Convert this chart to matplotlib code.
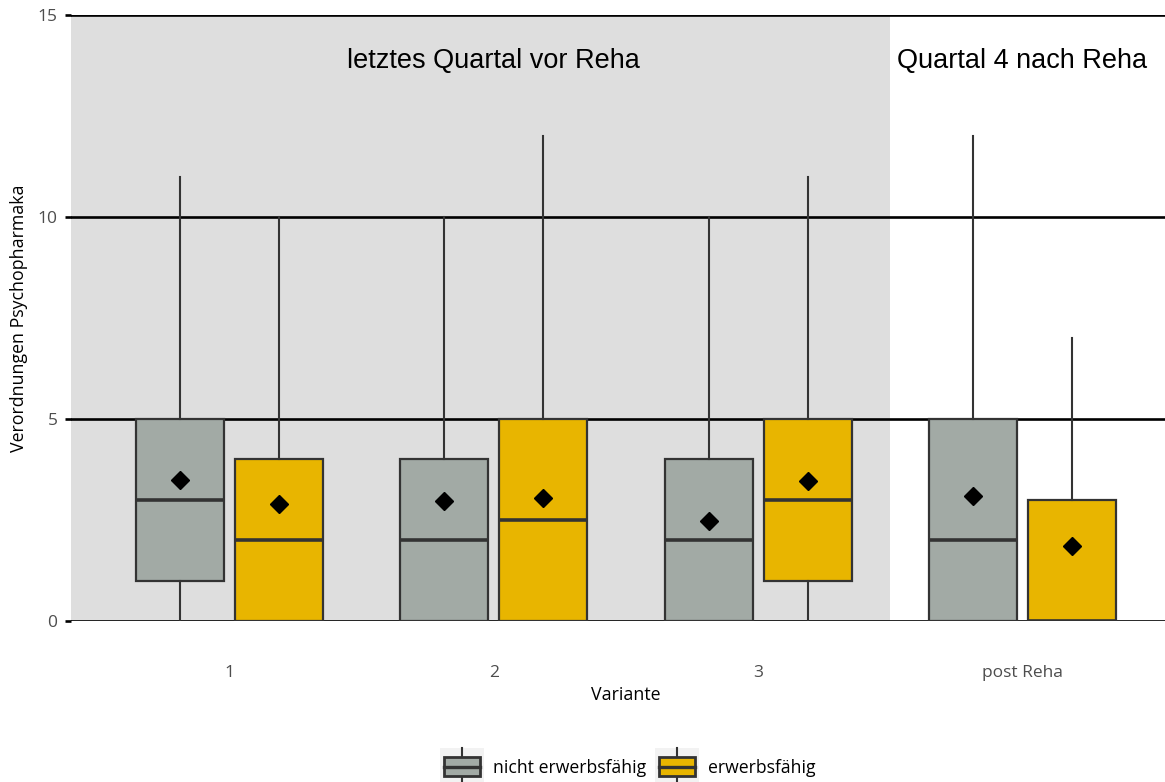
import numpy as np
import matplotlib.pyplot as plt
from matplotlib.patches import Rectangle
from matplotlib.lines import Line2D
from matplotlib.legend_handler import HandlerBase

# five-number summaries per group (whisker low, q1, median, q3, whisker high) and means
varianten = ['1', '2', '3', 'post Reha']
gruppen = ['nicht erwerbsfähig', 'erwerbsfähig']

nicht_low = [0, 0, 0, 0]
nicht_q1 = [1, 0, 0, 0]
nicht_med = [3, 2, 2, 2]
nicht_q3 = [5, 4, 4, 5]
nicht_high = [11, 10, 10, 12]
nicht_mean = [3.5, 2.97, 2.48, 3.1]

erw_low = [0, 0, 0, 0]
erw_q1 = [0, 0, 1, 0]
erw_med = [2, 2.5, 3, 0]
erw_q3 = [4, 5, 5, 3]
erw_high = [10, 12, 11, 7]
erw_mean = [2.9, 3.05, 3.46, 1.85]

farben = ['#A2AAA5', '#E8B500']
kante = '#333333'

plt.rcParams['font.family'] = ['Open Sans', 'DejaVu Sans']

W, H = 1165, 782
fig = plt.figure(figsize=(W / 100, H / 100), dpi=100)
# panel runs past the right border, as in the saved original
ax = fig.add_axes([71 / W, 1 - 621 / H, 1110 / W, 606 / H])
ax.set_xlim(0.4, 4.6)
ax.set_ylim(0, 15)

for s in ax.spines.values():
    s.set_visible(False)

# shaded region for the pre-rehab quarter
ax.axvspan(0.4, 3.5, color='#DEDEDE', zorder=0, lw=0)
for yv in [0, 5, 10, 15]:
    ax.axhline(yv, color='black', lw=1.9, zorder=1)

def stats_for(low, q1, med, q3, high, mean):
    out = []
    for i in range(len(low)):
        out.append(dict(whislo=low[i], q1=q1[i], med=med[i], q3=q3[i],
                        whishi=high[i], mean=mean[i], fliers=[]))
    return out

pos = np.arange(1, len(varianten) + 1)
breite = 0.333
versatz = 0.1875
serien = [stats_for(nicht_low, nicht_q1, nicht_med, nicht_q3, nicht_high, nicht_mean),
          stats_for(erw_low, erw_q1, erw_med, erw_q3, erw_high, erw_mean)]

for k, st in enumerate(serien):
    p = pos + (k * 2 - 1) * versatz
    ax.bxp(st, positions=p, widths=breite, patch_artist=True, showcaps=False,
           showmeans=True, manage_ticks=False,
           boxprops=dict(facecolor=farben[k], edgecolor=kante, lw=1.6),
           medianprops=dict(color=kante, lw=2.6),
           whiskerprops=dict(color=kante, lw=1.5),
           meanprops=dict(marker='D', markerfacecolor='black', markeredgecolor='black',
                          markersize=9),
           zorder=3)

ax.text(2, 13.85, 'letztes Quartal vor Reha', ha='center', va='center',
        fontsize=19.5, family='Liberation Sans')
ax.text(4, 13.85, 'Quartal 4 nach Reha', ha='center', va='center',
        fontsize=19.5, family='Liberation Sans')

ax.set_xticks(pos)
ax.set_xticklabels(varianten)
ax.set_yticks([0, 5, 10, 15])
ax.tick_params(axis='x', length=0, pad=32, labelsize=12.5, labelcolor='#4D4D4D')
ax.tick_params(axis='y', length=4.3, width=1.9, color='black', pad=5.5,
               labelsize=12.5, labelcolor='#4D4D4D')
ax.set_xlabel('Variante', fontsize=12.8, labelpad=3)
ax.set_ylabel('Verordnungen Psychopharmaka', fontsize=12.8, labelpad=7)


class BoxKey(HandlerBase):
    # small boxplot glyph for the legend keys
    def create_artists(self, legend, orig_handle, xdescent, ydescent,
                       width, height, fontsize, trans):
        fc = orig_handle.get_facecolor()
        x0, y0 = -xdescent, -ydescent
        bg = Rectangle((x0, y0 - 0.5 * height), width, height * 2.0,
                       facecolor='#F2F2F2', edgecolor='none', transform=trans)
        wh = Line2D([x0 + width / 2] * 2, [y0 - 0.5 * height, y0 + 1.5 * height],
                    color=kante, lw=1.5, transform=trans)
        box = Rectangle((x0 + 0.09 * width, y0), 0.82 * width, height,
                        facecolor=fc, edgecolor=kante, lw=2.0, transform=trans)
        med = Line2D([x0 + 0.09 * width, x0 + 0.91 * width], [y0 + height / 2] * 2,
                     color=kante, lw=2.4, transform=trans)
        return [bg, wh, box, med]


handles = [Rectangle((0, 0), 1, 1, facecolor=c) for c in farben]
fig.legend(handles, gruppen, handler_map={Rectangle: BoxKey()},
           loc='center', bbox_to_anchor=(628 / W, 1 - 767 / H), ncol=2,
           frameon=False, fontsize=12.7, handlelength=2.5, handleheight=1.25,
           handletextpad=0.5, columnspacing=0.5)

fig.savefig('out.png', dpi=100)
